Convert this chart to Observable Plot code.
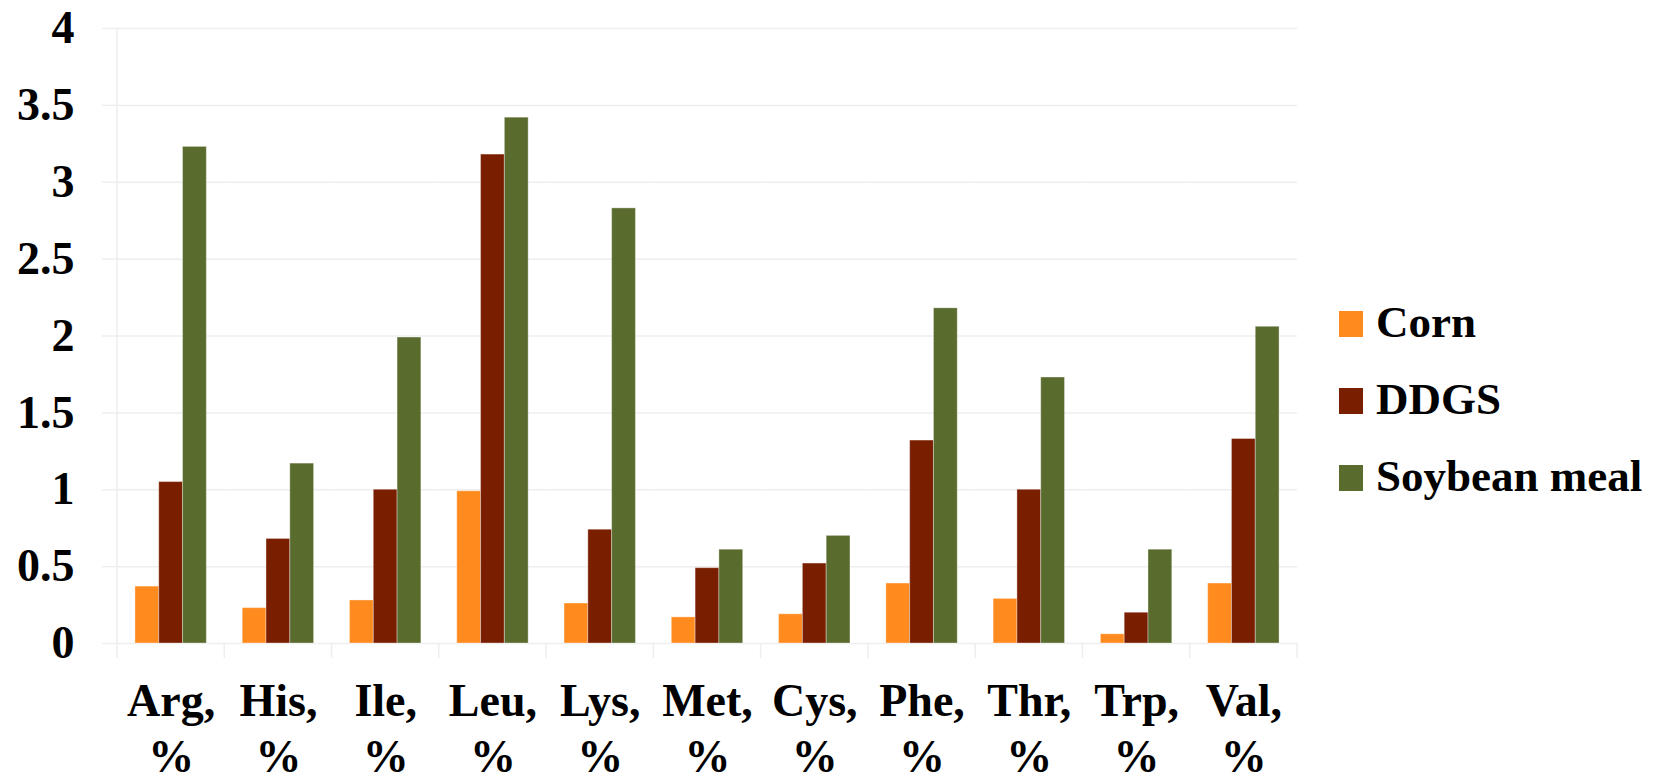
<!DOCTYPE html>
<html><head><meta charset="utf-8">
<script src="https://cdn.jsdelivr.net/npm/d3@7"></script>
<script src="https://cdn.jsdelivr.net/npm/@observablehq/plot@0.6"></script>
<style>
body{margin:0;background:#fff;}
#wrap{position:relative;width:1660px;height:784px;overflow:hidden;}
svg text{font-weight:bold;}
.sw{position:absolute;width:24px;height:26px;}
.lt{position:absolute;font-family:"Liberation Serif",serif;font-weight:bold;font-size:45px;line-height:1;white-space:nowrap;color:#000;}
</style></head><body><div id="wrap"></div>
<script>
const categories = ["Arg", "His", "Ile", "Leu", "Lys", "Met", "Cys", "Phe", "Thr", "Trp", "Val"];
const tickLabels = ["Arg, %", "His, %", "Ile, %", "Leu, %", "Lys, %", "Met, %", "Cys, %", "Phe, %", "Thr, %", "Trp, %", "Val, %"];
const series = ["Corn", "DDGS", "Soybean meal"];
const corn = [0.37, 0.23, 0.28, 0.99, 0.26, 0.17, 0.19, 0.39, 0.29, 0.06, 0.39];
const ddgs = [1.05, 0.68, 1.00, 3.18, 0.74, 0.49, 0.52, 1.32, 1.00, 0.20, 1.33];
const soy  = [3.23, 1.17, 1.99, 3.42, 2.83, 0.61, 0.70, 2.18, 1.73, 0.61, 2.06];
const colors = ["#FF8A1E", "#7A1E00", "#5A6B2E"];
const yTicks = [0, 0.5, 1, 1.5, 2, 2.5, 3, 3.5, 4];

const values = [corn, ddgs, soy];
const data = [];
categories.forEach((c, i) => series.forEach((s, j) => data.push({cat: c, series: s, value: values[j][i]})));
const labelOf = Object.fromEntries(categories.map((c, i) => [c, tickLabels[i].replace(" ", "\n")]));

const gridColor = "#eeeeee";
const plot = Plot.plot({
  width: 1660,
  height: 784,
  marginTop: 28,
  marginLeft: 117,
  marginRight: 363,
  marginBottom: 141,
  style: {fontFamily: "'Liberation Serif', serif", background: "#fff", color: "#000"},
  fx: {domain: categories, padding: 0, round: false, label: null},
  x: {domain: series, paddingInner: 0, paddingOuter: 0.754, round: false, axis: null},
  y: {domain: [0, 4], label: null},
  color: {domain: series, range: colors},
  marks: [
    Plot.gridY(yTicks, {stroke: gridColor, strokeOpacity: 1, strokeWidth: 1.5}),
    Plot.axisY({ticks: yTicks, tickFormat: d => String(d), tickSize: 15, tickPadding: 28, stroke: gridColor, strokeOpacity: 1, strokeWidth: 1.5, fill: "#000", fontSize: 46, fontWeight: "bold", label: null}),
    Plot.axisFx({anchor: "bottom", tickFormat: d => labelOf[d], tickSize: 0, tickPadding: 33, fontSize: 46, fontWeight: "bold", lineHeight: 1.22, fill: "#000", label: null}),
    Plot.barY(data, {fx: "cat", x: "series", y: "value", fill: "series", stroke: "#ffffff", strokeOpacity: 0.35, strokeWidth: 1})
  ]
});

// category separator ticks and left axis line from the fx / y scales
const fx = plot.scale("fx"), ys = plot.scale("y");
const y0 = ys.apply(0), yTop = ys.apply(4);
const g = d3.select(plot).append("g").attr("stroke", gridColor).attr("stroke-width", 1.5);
const left = fx.apply(categories[0]);
g.append("line").attr("x1", left).attr("x2", left).attr("y1", yTop).attr("y2", y0 + 15);
categories.forEach(c => {
  const xr = fx.apply(c) + fx.bandwidth;
  g.append("line").attr("x1", xr).attr("x2", xr).attr("y1", y0).attr("y2", y0 + 15);
});

const wrap = document.getElementById("wrap");
wrap.appendChild(plot);

// legend
series.forEach((s, j) => {
  const sw = document.createElement("div");
  sw.className = "sw";
  sw.style.left = "1339px";
  sw.style.top = (311 + j * 77) + "px";
  sw.style.background = colors[j];
  wrap.appendChild(sw);
  const t = document.createElement("div");
  t.className = "lt";
  t.style.left = "1376px";
  t.style.top = (300 + j * 77) + "px";
  t.textContent = s;
  wrap.appendChild(t);
});
</script></body></html>
